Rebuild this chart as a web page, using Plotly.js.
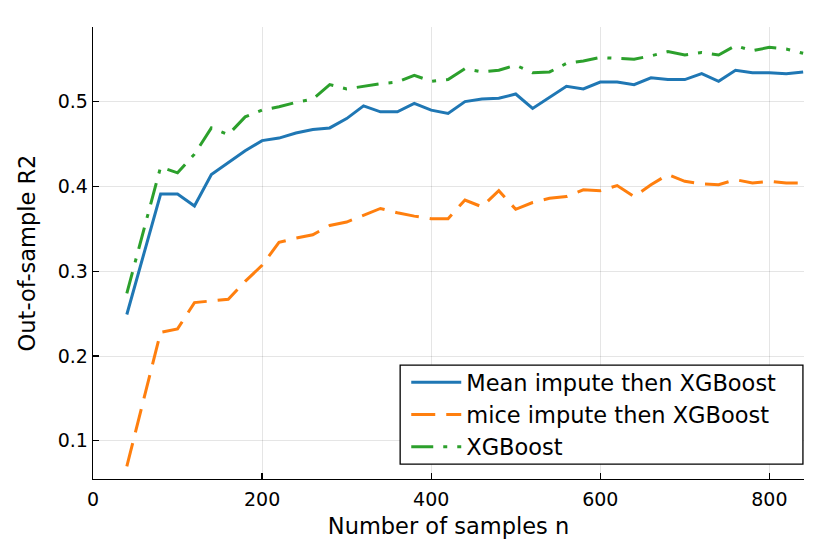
<!DOCTYPE html>
<html>
<head>
<meta charset="utf-8">
<script src="https://cdn.plot.ly/plotly-3.0.1.min.js"></script>
<style>
  body { margin: 0; background: #fff; }
  #chart { width: 830px; height: 554px; }
</style>
</head>
<body>
<div id="chart"></div>
<script>
// sample sizes
var samples = [40, 60, 80, 100, 120, 140, 160, 180, 200,
  220, 240, 260, 280, 300, 320, 340, 360, 380, 400,
  420, 440, 460, 480, 500, 520, 540, 560, 580, 600,
  620, 640, 660, 680, 700, 720, 740, 760, 780, 800,
  820, 840];

// out-of-sample R2
var meanImpute = [0.249, 0.320, 0.391, 0.391, 0.377, 0.414, 0.428, 0.442, 0.454,
  0.457, 0.463, 0.467, 0.469, 0.480, 0.495, 0.488, 0.488, 0.498, 0.490,
  0.486, 0.500, 0.503, 0.504, 0.509, 0.492, 0.505, 0.518, 0.515, 0.523,
  0.523, 0.520, 0.528, 0.526, 0.526, 0.533, 0.524, 0.537, 0.534, 0.534,
  0.533, 0.535];

var miceImpute = [0.070, 0.148, 0.228, 0.232, 0.263, 0.265, 0.267, 0.288, 0.307,
  0.334, 0.339, 0.343, 0.354, 0.358, 0.366, 0.374, 0.369, 0.365, 0.362,
  0.362, 0.384, 0.376, 0.395, 0.373, 0.381, 0.386, 0.388, 0.396, 0.395,
  0.401, 0.388, 0.402, 0.414, 0.406, 0.403, 0.402, 0.408, 0.404, 0.406,
  0.404, 0.404];

var xgbOnly = [0.274, 0.349, 0.423, 0.416, 0.438, 0.469, 0.461, 0.482, 0.490,
  0.494, 0.499, 0.503, 0.520, 0.515, 0.518, 0.521, 0.523, 0.531, 0.524,
  0.526, 0.539, 0.535, 0.537, 0.543, 0.534, 0.535, 0.545, 0.548, 0.552,
  0.551, 0.550, 0.554, 0.559, 0.555, 0.558, 0.555, 0.566, 0.560, 0.564,
  0.562, 0.557];

var seriesNames = ['Mean impute then XGBoost', 'mice impute then XGBoost', 'XGBoost'];
var xTicks = [0, 200, 400, 600, 800];
var yTicks = [0.1, 0.2, 0.3, 0.4, 0.5];

var font = 'DejaVu Sans, sans-serif';

var trace1 = {
  x: samples, y: meanImpute, name: seriesNames[0],
  type: 'scatter', mode: 'lines',
  line: {color: '#1f77b4', width: 3}
};
var trace2 = {
  x: samples, y: miceImpute, name: seriesNames[1],
  type: 'scatter', mode: 'lines',
  line: {color: '#ff7f0e', width: 3, dash: '24px,11px'}
};
var trace3 = {
  x: samples, y: xgbOnly, name: seriesNames[2],
  type: 'scatter', mode: 'lines',
  line: {color: '#2ca02c', width: 3, dash: '22px,10px,4px,10px'}
};

var axisCommon = {
  showline: true,
  linecolor: '#000',
  linewidth: 1.3,
  mirror: false,
  ticks: 'inside',
  ticklen: 6,
  tickwidth: 1.2,
  tickcolor: '#000',
  showgrid: true,
  gridcolor: 'rgba(0,0,0,0.1)',
  gridwidth: 1,
  zeroline: false,
  tickfont: {family: font, size: 19, color: '#000'}
};

var layout = {
  width: 830,
  height: 554,
  paper_bgcolor: '#fff',
  plot_bgcolor: '#fff',
  margin: {l: 93, r: 26, t: 27, b: 75},
  showlegend: true,
  xaxis: Object.assign({}, axisCommon, {
    range: [0, 841],
    tickvals: xTicks,
    ticktext: xTicks.map(String),
    ticklabelstandoff: 3,
    title: {text: 'Number of samples n', font: {family: font, size: 22.5, color: '#000'}, standoff: 9}
  }),
  yaxis: Object.assign({}, axisCommon, {
    range: [0.055, 0.588],
    tickvals: yTicks,
    ticktext: yTicks.map(function(v){ return v.toFixed(1); }),
    title: {text: 'Out-of-sample R2', font: {family: font, size: 22.5, color: '#000'}, standoff: 15}
  }),
  // legend frame, wider than the entries (as in the original)
  shapes: [{
    type: 'rect', xref: 'paper', yref: 'paper', layer: 'above',
    x0: 0.432, x1: 0.9985, y0: 0.033, y1: 0.252,
    fillcolor: '#fff',
    line: {color: '#000', width: 1.3}
  }],
  legend: {
    x: 0.968, xanchor: 'right',
    y: 0.1425, yanchor: 'middle',
    bgcolor: 'rgba(0,0,0,0)',
    borderwidth: 0,
    itemwidth: 50,
    font: {family: font, size: 22.5, color: '#000'}
  }
};

Plotly.newPlot('chart', [trace1, trace2, trace3], layout, {displayModeBar: false, staticPlot: true});
</script>
</body>
</html>
